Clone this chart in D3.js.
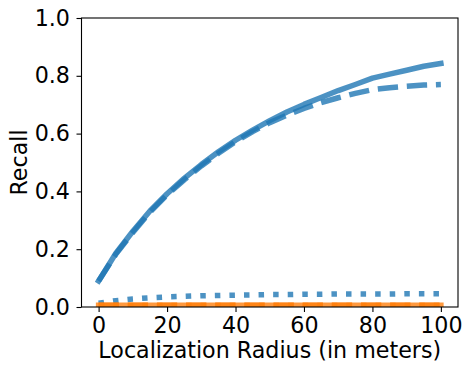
<!DOCTYPE html>
<html>
<head>
<meta charset="utf-8">
<script src="https://cdn.jsdelivr.net/npm/d3@7"></script>
<style>
  body { margin: 0; background: #fff; }
  text { font-family: "DejaVu Sans", sans-serif; fill: #000; }
</style>
</head>
<body>
<div id="chart"></div>
<script>
// chart size
const W = 472, H = 372;
const margin = {top: 18, right: 14, bottom: 65, left: 81.5};
const FONT = "22.2px";

// data
const radius = [0, 5, 10, 15, 20, 25, 30, 35, 40, 45, 50, 55, 60, 65, 70, 75, 80, 85, 90, 95, 100];
const blueSolid  = [0.09, 0.185, 0.262, 0.332, 0.392, 0.445, 0.493, 0.537, 0.577, 0.612, 0.645, 0.675, 0.701, 0.725, 0.749, 0.77, 0.792, 0.806, 0.819, 0.833, 0.843];
const blueDashed = [0.09, 0.182, 0.258, 0.328, 0.388, 0.44, 0.488, 0.532, 0.572, 0.607, 0.638, 0.664, 0.687, 0.707, 0.724, 0.739, 0.752, 0.759, 0.764, 0.768, 0.770];
const blueDotted = [0.013, 0.022, 0.028, 0.032, 0.035, 0.037, 0.039, 0.040, 0.041, 0.042, 0.043, 0.043, 0.044, 0.044, 0.045, 0.045, 0.045, 0.045, 0.046, 0.046, 0.046];
const orangeSolid  = [0.006, 0.006, 0.006, 0.006, 0.006, 0.006, 0.006, 0.006, 0.006, 0.006, 0.006, 0.006, 0.006, 0.006, 0.006, 0.006, 0.006, 0.006, 0.006, 0.006, 0.006];
const orangeDashed = [0.006, 0.006, 0.006, 0.006, 0.006, 0.006, 0.006, 0.006, 0.006, 0.006, 0.006, 0.006, 0.006, 0.006, 0.006, 0.006, 0.006, 0.006, 0.006, 0.006, 0.006];
const orangeDotted = [0.005, 0.005, 0.005, 0.005, 0.005, 0.005, 0.005, 0.005, 0.005, 0.005, 0.005, 0.005, 0.005, 0.005, 0.005, 0.005, 0.005, 0.005, 0.005, 0.005, 0.005];
const xTicks = [0, 20, 40, 60, 80, 100];
const yTicks = [0, 0.2, 0.4, 0.6, 0.8, 1.0];

const BLUE = "#1f77b4", ORANGE = "#ff7f0e";
const LW = 5.5;

let w = W - margin.left - margin.right;
let h = H - margin.top - margin.bottom;

let svg = d3.select("#chart")
    .append("svg")
    .attr("width", W)
    .attr("height", H);

let g = svg.append("g")
    .attr("transform", `translate(${margin.left},${margin.top})`);

let x = d3.scaleLinear().domain([-5, 105]).range([0, w]);
let y = d3.scaleLinear().domain([0, 1]).range([h, 0]);

// clip lines to the axes box like matplotlib does
svg.append("defs").append("clipPath").attr("id", "clip")
    .append("rect").attr("width", w).attr("height", h);

let plot = g.append("g").attr("clip-path", "url(#clip)");

let line = d3.line()
    .x(function(d) { return x(d[0]); })
    .y(function(d) { return y(d[1]); });

let series = [
    {vals: blueSolid, color: BLUE, dash: null},
    {vals: blueDashed, color: BLUE, dash: [3.7 * LW, 1.6 * LW]},
    {vals: blueDotted, color: BLUE, dash: [1 * LW, 1.65 * LW]},
    {vals: orangeSolid, color: ORANGE, dash: null},
    {vals: orangeDashed, color: ORANGE, dash: [3.7 * LW, 1.6 * LW]},
    {vals: orangeDotted, color: ORANGE, dash: [1 * LW, 1.65 * LW]}
];

series.forEach(function(s) {
    plot.append("path")
        .datum(radius.map(function(r, i) { return [r, s.vals[i]]; }))
        .attr("d", line)
        .attr("fill", "none")
        .attr("stroke", s.color)
        .attr("stroke-opacity", 0.8)
        .attr("stroke-width", LW)
        .attr("stroke-linejoin", "round")
        .attr("stroke-linecap", s.dash ? "butt" : "square")
        .attr("stroke-dasharray", s.dash ? s.dash.join(",") : null);
});

// axes
let xAxis = g.append("g")
    .attr("transform", `translate(0,${h})`)
    .call(d3.axisBottom(x).tickValues(xTicks).tickSize(5).tickPadding(5.5));
let yAxis = g.append("g")
    .call(d3.axisLeft(y).tickValues(yTicks).tickSize(5).tickPadding(6.5).tickFormat(d3.format(".1f")));

[xAxis, yAxis].forEach(function(a) {
    a.select(".domain").remove();
    a.selectAll("line").attr("stroke", "#000").attr("stroke-width", 1.1);
    a.selectAll("text").style("font-size", FONT).attr("font-family", "DejaVu Sans");
});

// frame
g.append("rect")
    .attr("width", w).attr("height", h)
    .attr("fill", "none").attr("stroke", "#000").attr("stroke-width", 1.1);

g.append("text")
    .attr("x", w / 2).attr("y", h + 51)
    .attr("text-anchor", "middle")
    .style("font-size", FONT)
    .text("Localization Radius (in meters)");

g.append("text")
    .attr("transform", `translate(${-54.5},${h / 2}) rotate(-90)`)
    .attr("text-anchor", "middle")
    .style("font-size", FONT)
    .text("Recall");
</script>
</body>
</html>
